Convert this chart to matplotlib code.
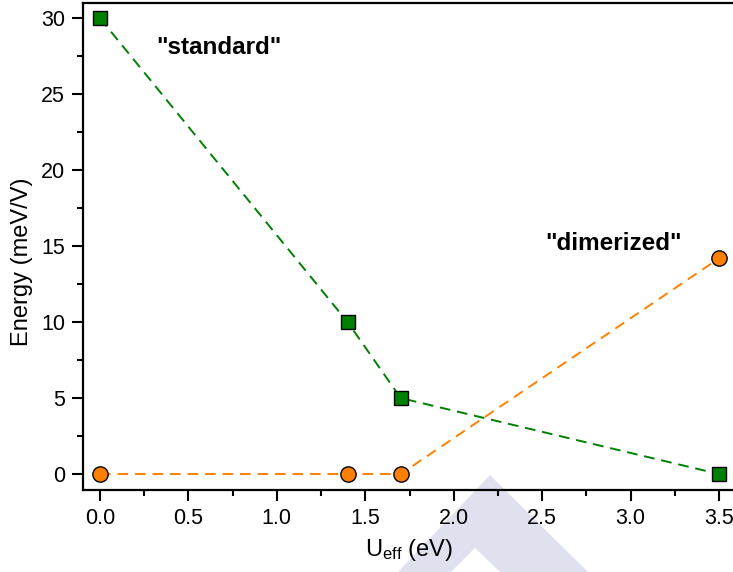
"""Energy difference vs U_eff for the standard and dimerized structures."""

import matplotlib
matplotlib.use("Agg")
import matplotlib.pyplot as plt
from matplotlib.patches import Polygon
from matplotlib.ticker import MultipleLocator

plt.rcParams['font.family'] = ['Liberation Sans', 'DejaVu Sans']
plt.rcParams['mathtext.default'] = 'regular'

u_eff = [0.0, 1.4, 1.7, 3.5]
standard = [30.0, 10.0, 5.0, 0.0]
dimerized = [0.0, 0.0, 0.0, 14.2]

GREEN = '#008000'
ORANGE = '#ff8000'
H = 572


def make_plot(output_path: str):
    """Draws the two series and saves the figure."""
    fig = plt.figure(figsize=(7.33, 5.72), dpi=100)

    # faint watermark behind everything (pixel coords, top-left origin)
    outer = [(490, 475), (398, 572), (588, 572)]
    inner = [(475, 548), (451, 572), (500, 572)]
    wm = Polygon([(x, H - y) for x, y in outer], closed=True,
                 facecolor='#dfe1ef', edgecolor='none',
                 transform=None, zorder=-2)
    wm_inner = Polygon([(x, H - y) for x, y in inner], closed=True,
                       facecolor='white', edgecolor='none',
                       transform=None, zorder=-1)
    fig.patches.extend([wm, wm_inner])

    ax = fig.add_axes([83 / 733, 82 / 572, 652 / 733, 487 / 572])
    ax.patch.set_alpha(0)
    ax.set_zorder(1)

    dash = (0, (5.5, 3.5))
    ax.plot(u_eff, standard, linestyle=dash, color=GREEN, lw=1.4,
            marker='s', markersize=10.5, markerfacecolor=GREEN,
            markeredgecolor='black', markeredgewidth=1.0, clip_on=False)
    ax.plot(u_eff, dimerized, linestyle=dash, color=ORANGE, lw=1.4,
            marker='o', markersize=11, markerfacecolor=ORANGE,
            markeredgecolor='black', markeredgewidth=1.0, clip_on=False)

    ax.text(0.32, 28.1, '"standard"', fontsize=17.5, fontweight='bold',
            va='center', ha='left')
    ax.text(2.52, 15.2, '"dimerized"', fontsize=17.5, fontweight='bold',
            va='center', ha='left')

    ax.set_xlim(-0.096, 3.59)
    ax.set_ylim(-1.05, 31.0)
    ax.xaxis.set_major_locator(MultipleLocator(0.5))
    ax.xaxis.set_minor_locator(MultipleLocator(0.25))
    ax.yaxis.set_major_locator(MultipleLocator(5))
    ax.yaxis.set_minor_locator(MultipleLocator(2.5))
    ax.xaxis.set_major_formatter(plt.FormatStrFormatter('%.1f'))

    ax.tick_params(which='major', direction='out', length=8, width=1.5,
                   labelsize=15.5, pad=5)
    ax.tick_params(which='minor', direction='out', length=4, width=1.5)
    ax.tick_params(top=False, right=False)
    for side in ax.spines.values():
        side.set_linewidth(1.6)
    ax.spines['right'].set_visible(False)

    ax.set_xlabel('U$_{eff}$ (eV)', fontsize=17, labelpad=6)
    ax.set_ylabel('Energy (meV/V)', fontsize=17)
    ax.yaxis.set_label_coords(-0.077, 0.468)

    fig.savefig(output_path, dpi=100)


if __name__ == "__main__":
    make_plot("out.png")
